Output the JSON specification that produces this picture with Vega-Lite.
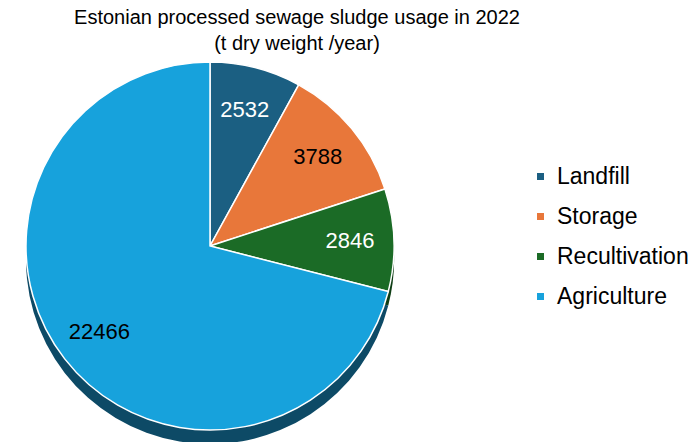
{
  "$schema": "https://vega.github.io/schema/vega-lite/v6.json",
  "autosize": {"type": "none"},
  "width": 400,
  "height": 364,
  "padding": {"left": 10, "top": 64, "right": 283, "bottom": 14},
  "background": "white",
  "title": {
    "text": ["Estonian processed sewage sludge usage in 2022", "(t dry weight /year)"],
    "font": "Liberation Sans",
    "fontSize": 20,
    "fontWeight": "normal",
    "color": "#000000",
    "lineHeight": 26,
    "anchor": "middle",
    "dx": 87,
    "offset": 5
  },
  "data": {
    "values": [
      {"category": "Landfill", "value": 2532},
      {"category": "Storage", "value": 3788},
      {"category": "Recultivation", "value": 2846},
      {"category": "Agriculture", "value": 22466}
    ]
  },
  "transform": [{"window": [{"op": "row_number", "as": "idx"}]}],
  "layer": [
    {
      "mark": {"type": "arc", "radius": 184, "yOffset": 14},
      "encoding": {
        "theta": {"field": "value", "type": "quantitative", "stack": true},
        "order": {"field": "idx", "type": "quantitative"},
        "color": {
          "field": "category",
          "type": "nominal",
          "scale": {
            "domain": ["Landfill", "Storage", "Recultivation", "Agriculture"],
            "range": ["#0c3a50", "#8a3f16", "#0e3d14", "#0d4a66"]
          },
          "legend": null
        }
      }
    },
    {
      "mark": {"type": "arc", "radius": 184, "stroke": "white", "strokeWidth": 1.5},
      "encoding": {
        "theta": {"field": "value", "type": "quantitative", "stack": true},
        "order": {"field": "idx", "type": "quantitative"},
        "color": {
          "field": "category",
          "type": "nominal",
          "sort": ["Landfill", "Storage", "Recultivation", "Agriculture"],
          "scale": {
            "domain": ["Landfill", "Storage", "Recultivation", "Agriculture"],
            "range": ["#1b5f82", "#e8773a", "#1b6b26", "#17a2dc"]
          },
          "legend": {
            "orient": "none",
            "legendX": 519,
            "legendY": 101,
            "title": null,
            "symbolType": "square",
            "symbolSize": 49,
            "symbolStrokeWidth": 0,
            "labelFont": "Liberation Sans",
            "labelFontSize": 23,
            "labelColor": "#000000",
            "labelOffset": 5,
            "rowPadding": 16,
            "labelLimit": 300
          }
        }
      }
    },
    {
      "mark": {"type": "text", "radius": 140, "font": "Liberation Sans", "fontSize": 22},
      "encoding": {
        "theta": {"field": "value", "type": "quantitative", "stack": true},
        "order": {"field": "idx", "type": "quantitative"},
        "text": {"field": "value", "type": "quantitative", "format": "d"},
        "color": {
          "condition": {"test": "datum.category === 'Landfill' || datum.category === 'Recultivation'", "value": "#ffffff"},
          "value": "#000000"
        }
      }
    }
  ],
  "resolve": {"scale": {"color": "independent"}},
  "config": {"view": {"stroke": null}}
}
